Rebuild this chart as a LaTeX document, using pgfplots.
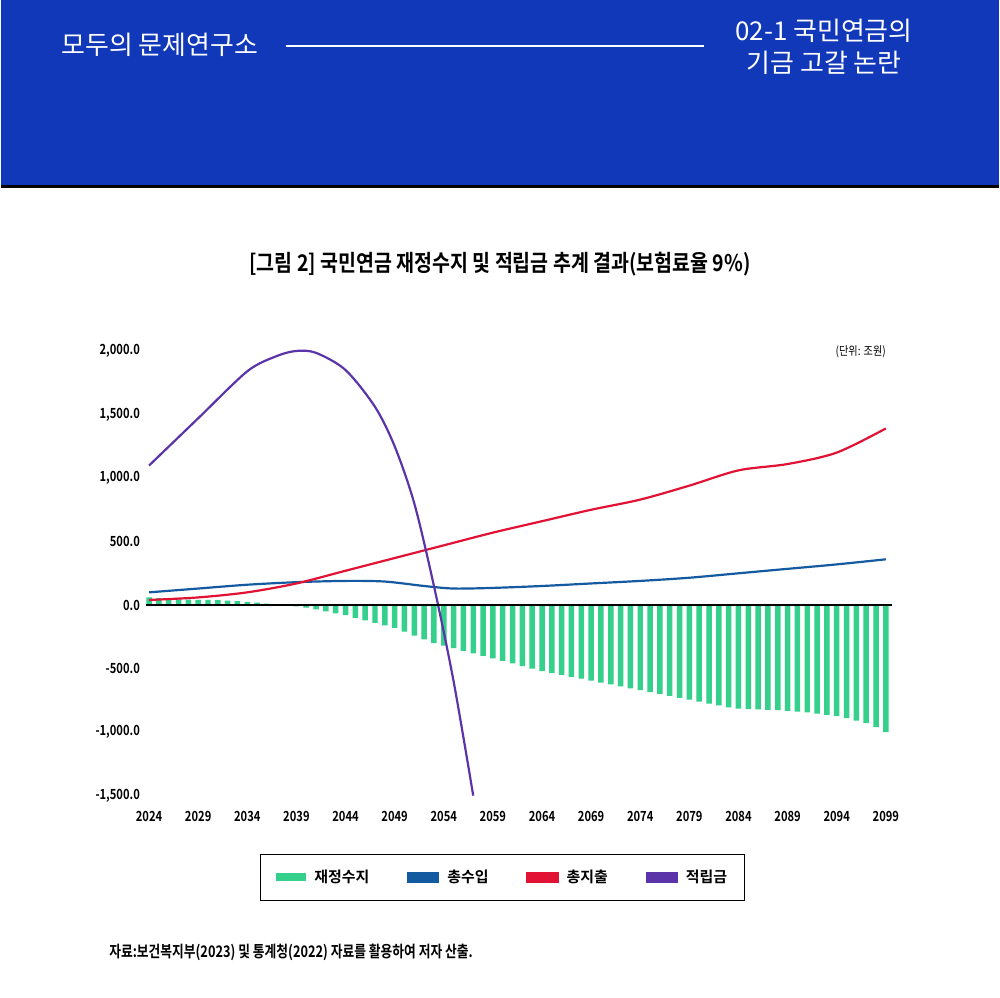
\documentclass[border=0pt]{standalone}
\usepackage{pgfplots}
\pgfplotsset{compat=1.18}
\usepackage{fontspec}
\setmainfont{Noto Sans CJK KR}
\newfontfamily\kb{Noto Sans CJK KR Bold}
\definecolor{hdr}{RGB}{16,56,184}
\definecolor{gbar}{RGB}{52,208,140}
\definecolor{rev}{RGB}{20,90,160}
\definecolor{exq}{RGB}{226,18,52}
\definecolor{fund}{RGB}{92,52,170}
\begin{document}
\begin{tikzpicture}[x=1pt,y=1pt]
\path[fill=white] (0,0) rectangle (1000,-1000);
\fill[hdr] (0,0) rectangle (1000,-186);
\draw[black,line width=3pt] (0,-187) -- (1000,-187);
\node[white,anchor=west,font=\fontsize{26}{29}\selectfont,inner sep=0pt] at (60,-45) {모두의 문제연구소};
\draw[white,line width=1.5pt] (285,-46) -- (705,-46);
\node[white,align=center,font=\fontsize{26}{32}\selectfont] at (825,-47) {02-1 국민연금의\\기금 고갈 논란};
\node[font=\kb\fontsize{23}{26}\selectfont,xscale=0.85] at (500,-265) {[그림 2] 국민연금 재정수지 및 적립금 추계 결과(보험료율 9\%)};
\node[font=\fontsize{12}{14}\selectfont,xscale=0.85,anchor=east] at (890,-353) {(단위: 조원)};
\node[font=\kb\fontsize{16}{18}\selectfont,xscale=0.8,anchor=west,inner sep=0pt] at (108,-955) {자료:\textmd{보건복지부(2023) 및 통계청(2022) 자료를 활용하여 저자 산출.}};
\begin{axis}[at={(148pt,-798pt)},anchor=south west,scale only axis,width=739pt,height=446pt,
  xmin=2024,xmax=2099,ymin=-1500,ymax=2000,axis line style={draw=none},tick style={draw=none},clip=false,
  xtick={2024,2029,...,2099},ytick={-1500,-1000,...,2000},
  xticklabel style={font=\kb\fontsize{14}{16}\selectfont,xscale=0.8,yshift=-12pt},
  yticklabel style={font=\kb\fontsize{14}{16}\selectfont,xscale=0.8,xshift=-8pt},
  y tick label style={/pgf/number format/.cd,fixed,fixed zerofill,precision=1,1000 sep={,}},
  /pgf/number format/assume math mode=true,
  xticklabel={\pgfmathprintnumber[1000 sep={}]{\tick}},
  legend columns=4,
  legend style={at={(0.48,-0.184)},anchor=center,draw=black,line width=1pt,font=\kb\fontsize{15}{17}\selectfont,inner xsep=16pt,inner ysep=14pt,/tikz/every even column/.append style={column sep=36pt},/tikz/every odd column/.append style={column sep=6pt}},
  legend image code/.code={\fill[#1] (0pt,-4pt) rectangle (30pt,4pt);}
]
\addplot[ybar,bar width=5.5pt,fill=gbar,draw=none] coordinates {
(2024,60)(2025,55)(2026,50)(2027,45)(2028,42)(2029,40)(2030,40)(2031,38)(2032,35)(2033,30)(2034,25)(2035,20)(2036,12)(2037,5)(2038,-2)(2039,-10)(2040,-20)(2041,-35)(2042,-50)(2043,-65)(2044,-80)(2045,-100)(2046,-120)(2047,-140)(2048,-160)(2049,-180)(2050,-210)(2051,-240)(2052,-270)(2053,-300)(2054,-320)(2055,-340)(2056,-360)(2057,-380)(2058,-400)(2059,-420)(2060,-440)(2061,-460)(2062,-480)(2063,-500)(2064,-520)(2065,-535)(2066,-550)(2067,-565)(2068,-580)(2069,-595)(2070,-610)(2071,-625)(2072,-640)(2073,-655)(2074,-670)(2075,-685)(2076,-700)(2077,-715)(2078,-730)(2079,-745)(2080,-760)(2081,-775)(2082,-790)(2083,-805)(2084,-815)(2085,-820)(2086,-822)(2087,-825)(2088,-828)(2089,-832)(2090,-838)(2091,-845)(2092,-855)(2093,-865)(2094,-875)(2095,-890)(2096,-910)(2097,-930)(2098,-960)(2099,-1000)};
\addlegendentry{재정수지}
\addplot[rev,line width=2.2pt,smooth] coordinates {(2024,100)(2029,130)(2034,160)(2039,180)(2044,190)(2048,185)(2052,150)(2055,130)(2059,135)(2064,150)(2069,170)(2074,190)(2079,215)(2084,250)(2089,285)(2094,320)(2099,360)};
\addlegendentry{총수입}
\addplot[exq,line width=2.2pt,smooth] coordinates {(2024,40)(2029,60)(2034,100)(2039,170)(2044,270)(2049,370)(2054,470)(2059,570)(2064,660)(2069,750)(2074,830)(2079,940)(2084,1060)(2089,1110)(2094,1200)(2099,1390)};
\addlegendentry{총지출}
\addplot[fund,line width=2.2pt,smooth] coordinates {(2024,1098)(2029,1470)(2034,1840)(2037,1960)(2039,2000)(2041,1985)(2044,1850)(2047,1560)(2049,1250)(2051,800)(2053,150)(2055,-600)(2057,-1500)};
\addlegendentry{적립금}
\draw[black,line width=1.2pt] (axis cs:2023.7,0) -- (axis cs:2099.6,0);
\end{axis}
\end{tikzpicture}
\end{document}
